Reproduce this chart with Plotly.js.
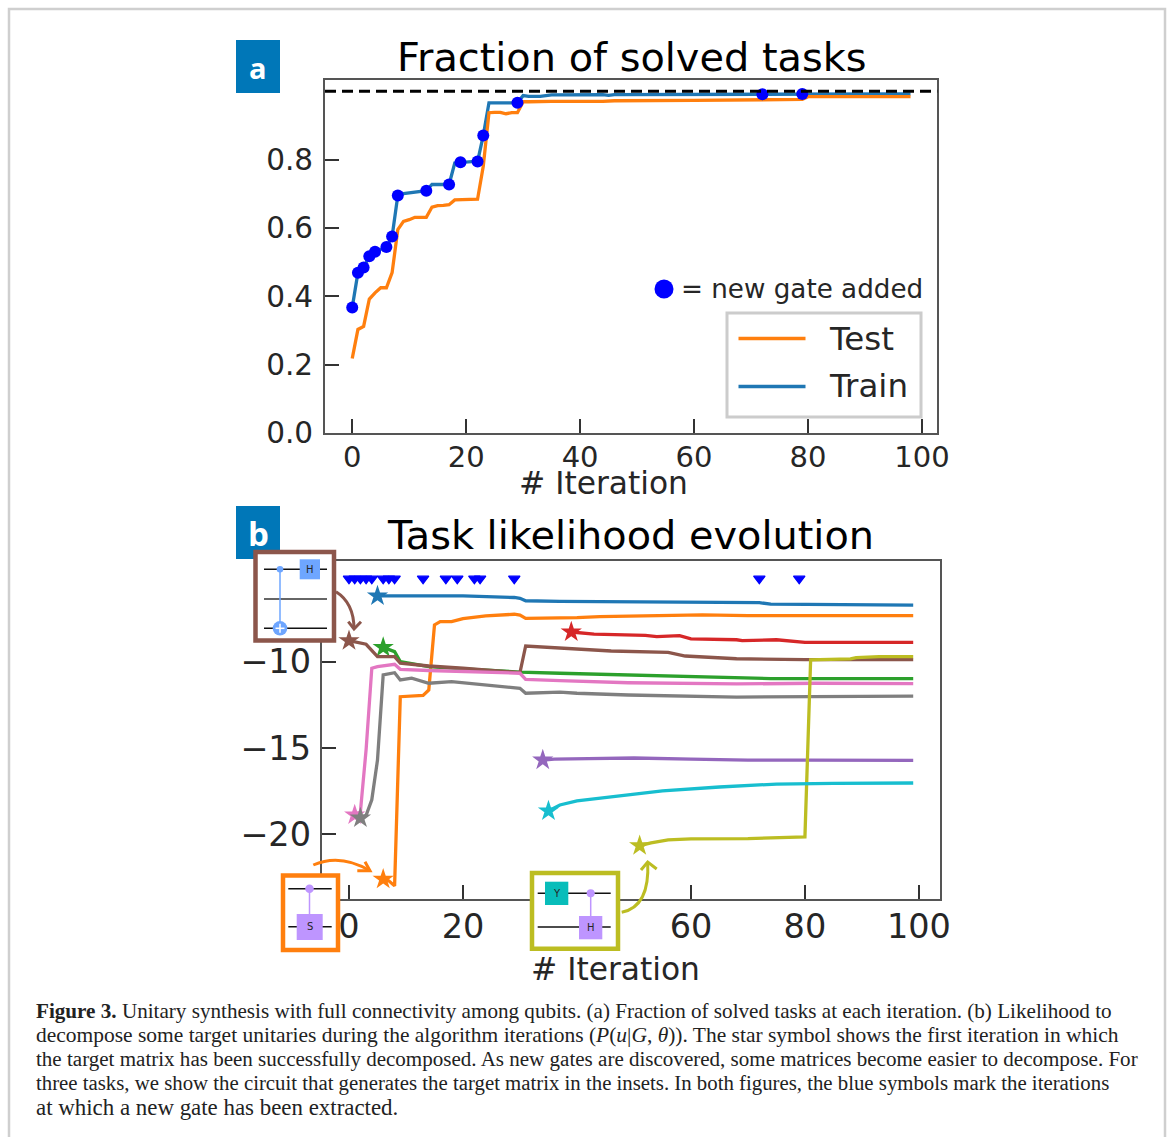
<!DOCTYPE html>
<html><head><meta charset="utf-8">
<script src="https://cdn.plot.ly/plotly-3.0.1.min.js"></script>
<style>html,body{margin:0;padding:0;background:#fff}#c{width:1168px;height:1137px}</style>
</head><body><div id="c"></div>
<script>
// ---- panel a data
const iterA = [0,1,2,3,4,5,6,7,8,9,10,11,12,13,14,15,16,17,18,19,20,21,22,23,24,25,26,27,28,29,30,31,33,35,44,45,46,60,68,72,79,80,98];
const trainA = [.367,.469,.484,.517,.530,.536,.544,.575,.695,.700,.702,.705,.708,.709,.727,.727,.727,.727,.790,.792,.792,.794,.794,.870,.966,.966,.965,.965,.966,.966,.987,.985,.985,.989,.990,.988,.990,.991,.991,.991,.992,.992,.992];
const testA  = [.218,.303,.312,.392,.410,.425,.425,.469,.595,.619,.624,.631,.631,.631,.661,.665,.666,.668,.682,.683,.682,.684,.684,.780,.937,.938,.938,.934,.937,.937,.969,.969,.970,.970,.970,.972,.972,.973,.974,.975,.976,.984,.984];
const gateIter = [0,1,2,3,4,6,7,8,13,17,19,22,23,29,72,79];
const gateFrac = [.367,.469,.484,.517,.530,.544,.575,.695,.709,.727,.792,.794,.870,.966,.991,.992];
const solvedLevel = 1.0;
// ---- panel b data
const gateMarkY = -5.19;
const xTask1=[5,7,20,29,30,31,37,72,74,99], yTask1=[-6.19,-6.19,-6.19,-6.28,-6.33,-6.47,-6.50,-6.58,-6.67,-6.72];
const xTask2=[6,7,8,9,13,14,15,16,18,20,24,29,30,31,40,44,62,70,99], yTask2=[-22.6,-22.7,-22.99,-12.03,-11.95,-11.64,-7.87,-7.68,-7.68,-7.5,-7.35,-7.25,-7.3,-7.49,-7.45,-7.39,-7.29,-7.33,-7.33];
const xTask3=[6,8,9,14,20,30,37,49,60,74,99], yTask3=[-9.17,-9.42,-10.0,-10.29,-10.42,-10.6,-10.67,-10.77,-10.89,-10.98,-10.98];
const xTask4=[39,43,52,54,58,60,68,69,75,80,99], yTask4=[-8.28,-8.40,-8.47,-8.55,-8.49,-8.68,-8.73,-8.78,-8.73,-8.88,-8.88];
const xTask5=[34,36,42,50,60,70,80,99], yTask5=[-15.7,-15.65,-15.62,-15.58,-15.65,-15.7,-15.7,-15.72];
const xTask6=[0,1,3,5,8,9,14,20,30,31,37,46,56,59,68,80,99], yTask6=[-8.78,-8.85,-8.99,-9.71,-9.71,-10.09,-10.25,-10.38,-10.63,-9.09,-9.22,-9.38,-9.46,-9.67,-9.83,-9.88,-9.88];
const xTask7=[1,2,3,4,5,8,9,14,30,31,37,49,68,82,99], yTask7=[-18.88,-18.7,-15.1,-10.38,-10.29,-10.15,-10.44,-10.51,-10.67,-11.02,-11.1,-11.22,-11.29,-11.25,-11.27];
const xTask8=[2,3,4,5,6,7,8,9,11,14,18,30,31,37,40,49,68,99], yTask8=[-19.06,-18.9,-18.0,-15.7,-10.77,-10.71,-10.64,-11.06,-10.95,-11.25,-11.16,-11.54,-11.83,-11.76,-11.83,-11.93,-12.05,-12.0];
const xTask9=[51,53,56,60,70,80,81,88,89,93,99], yTask9=[-20.66,-20.5,-20.33,-20.27,-20.25,-20.15,-9.9,-9.84,-9.76,-9.71,-9.71];
const xTask10=[35,37,40,47,55,65,75,85,99], yTask10=[-18.65,-18.3,-18.07,-17.78,-17.49,-17.26,-17.09,-17.05,-17.03];
const taskColors=['#1f77b4','#ff7f0e','#2ca02c','#d62728','#9467bd','#8c564b','#e377c2','#7f7f7f','#bcbd22','#17becf'];
const captionLines=[
 '<b>Figure 3.</b> Unitary synthesis with full connectivity among qubits. (a) Fraction of solved tasks at each iteration. (b) Likelihood to',
 'decompose some target unitaries during the algorithm iterations (<i>P</i>(<i>u</i>|<i>G</i>, <i>θ</i>)). The star symbol shows the first iteration in which',
 'the target matrix has been successfully decomposed. As new gates are discovered, some matrices become easier to decompose. For',
 'three tasks, we show the circuit that generates the target matrix in the insets. In both figures, the blue symbols mark the iterations',
 'at which a new gate has been extracted.'];
const captionSizes=[21.14,21.48,21.04,20.8,22.9];

const W=1168,H=1137;
const px=x=>x/W, py=y=>1-y/H;
const INK='#262626', SPINE='#555555', GATE='#0000ff';
const tasks=[[xTask1,yTask1],[xTask2,yTask2],[xTask3,yTask3],[xTask4,yTask4],[xTask5,yTask5],[xTask6,yTask6],[xTask7,yTask7],[xTask8,yTask8],[xTask9,yTask9],[xTask10,yTask10]];

const traces=[
 {x:iterA,y:trainA,name:'Train',mode:'lines',showlegend:false,line:{color:'#1f77b4',width:3.3},xaxis:'x',yaxis:'y'},
 {x:iterA,y:testA,name:'Test',mode:'lines',showlegend:false,line:{color:'#ff7f0e',width:3.3},xaxis:'x',yaxis:'y'},
 {x:gateIter,y:gateFrac,mode:'markers',showlegend:false,marker:{color:GATE,size:12},xaxis:'x',yaxis:'y'},
 {x:gateIter,y:gateIter.map(()=>gateMarkY),mode:'markers',showlegend:false,marker:{color:GATE,size:10,symbol:'triangle-down',line:{color:GATE,width:1.2}},xaxis:'x2',yaxis:'y2'}
];
tasks.forEach((t,i)=>{
 traces.push({x:t[0],y:t[1],mode:'lines',showlegend:false,line:{color:taskColors[i],width:3.3},xaxis:'x2',yaxis:'y2'});
 traces.push({x:[t[0][0]],y:[t[1][0]],mode:'markers',showlegend:false,marker:{color:taskColors[i],size:16,symbol:'star'},xaxis:'x2',yaxis:'y2'});
});

const rect=(x0,y0,x1,y1,fill,lc,lw)=>({type:'rect',xref:'paper',yref:'paper',layer:'above',x0:px(x0),x1:px(x1),y0:py(y0),y1:py(y1),fillcolor:fill||'rgba(0,0,0,0)',line:{color:lc||'rgba(0,0,0,0)',width:lw||0}});
const seg=(x0,y0,x1,y1,c,w)=>({type:'line',xref:'paper',yref:'paper',layer:'above',x0:px(x0),x1:px(x1),y0:py(y0),y1:py(y1),line:{color:c,width:w}});
const dot=(x,y,r,fill)=>({type:'circle',xref:'paper',yref:'paper',layer:'above',x0:px(x-r),x1:px(x+r),y0:py(y-r),y1:py(y+r),fillcolor:fill,line:{width:0,color:fill}});
const curve=(a,b,c,h1,h2,col)=>[
 {type:'path',xref:'paper',yref:'paper',layer:'above',path:`M${px(a[0])},${py(a[1])} Q${px(b[0])},${py(b[1])} ${px(c[0])},${py(c[1])}`,line:{color:col,width:3},fillcolor:'rgba(0,0,0,0)'},
 {type:'path',xref:'paper',yref:'paper',layer:'above',path:`M${px(h1[0])},${py(h1[1])} L${px(c[0])},${py(c[1])} L${px(h2[0])},${py(h2[1])}`,line:{color:col,width:3},fillcolor:'rgba(0,0,0,0)'}];
const QB='#6ea6ff', QP='#be95ff', QT='#08bdba';
const shapes=[
 {type:'line',xref:'x domain',yref:'y',layer:'above',x0:0,x1:1,y0:solvedLevel,y1:solvedLevel,line:{color:'#000',width:3,dash:'11px,6px'}},
 rect(9,9,1165,1300,null,'#cfcfcf',2.5),
 rect(236,40,280,93,'#0077b8'), rect(236,506,280,559,'#0077b8'),
 dot(664,289,9.5,GATE),
 // legend frame and keys
 rect(727,313,921,417,'#fff','#cccccc',3),
 seg(738.5,338.5,805.5,338.5,'#ff7f0e',3.3), seg(738.5,386.5,805.5,386.5,'#1f77b4',3.3),
 // brown inset
 rect(255.5,552,334,640.5,'#fff','#8c564b',4.5),
 seg(264,569.3,327,569.3,'#111',1.5),seg(264,599,327,599,'#333',1.5),seg(264,628.3,327,628.3,'#111',1.5),
 seg(280,569.3,280,628.3,QB,1.5),dot(280,569.3,3.3,QB),dot(280,628.3,7.3,QB),
 seg(275.5,628.3,284.5,628.3,'#fff',1.5),seg(280,623.8,280,632.8,'#fff',1.5),
 rect(299.7,559.3,320,579.3,QB),
 // orange inset
 rect(283,875.5,338,950,'#fff','#ff7f0e',4.5),
 seg(288.3,888.7,331.7,888.7,'#111',1.5),seg(288.3,926.7,331.7,926.7,'#111',1.5),
 seg(309.5,888.7,309.5,914,QP,1.5),dot(309.5,888.7,4.3,QP),rect(296.7,914,322.7,940,QP),
 // olive inset
 rect(532,873,618,948.7,'#fff','#bcbd22',4.5),
 seg(537.7,893.3,610.7,893.3,'#111',1.5),seg(537.7,927,610.7,927,'#111',1.5),
 rect(545,881.7,568.3,905,QT),seg(590.7,893.3,590.7,916,QP,1.5),dot(590.7,893.3,4,QP),rect(579,916,602.3,939.3,QP),
 ...curve([336,591.7],[354,603],[354,629],[348.3,621.7],[361,621.7],'#8c564b'),
 ...curve([313.3,865],[340,853],[370,870.7],[365,861.7],[357.3,870.7],'#ff7f0e'),
 ...curve([621.7,912.3],[650,906.7],[647.7,862],[641,870],[656.7,869],'#bcbd22')
];
const text=(t,x,y,size,o={})=>Object.assign({xref:'paper',yref:'paper',x:px(x),y:py(y),text:t,showarrow:false,xanchor:'center',yanchor:'middle',font:{family:'DejaVu Sans',size:size,color:INK}},o);
const annotations=[
 text('Fraction of solved tasks',631,57,39.85,{font:{family:'DejaVu Sans',size:39.85,color:'#000'}}),
 text('Task likelihood evolution',630,535,39.85,{font:{family:'DejaVu Sans',size:39.85,color:'#000'}}),
 text('# Iteration',603.5,483,31.3),
 text('# Iteration',615.5,969,31.3),
 text('= new gate added',802,289,26.2),
 text('Test',827,338.5,32.5,{xanchor:'left'}),
 text('Train',827,386.5,32.5,{xanchor:'left'}),
 text('<b>a</b>',258,67,29,{font:{family:'Open Sans',size:29,color:'#fff'}}),
 text('<b>b</b>',258,533,33,{font:{family:'Open Sans',size:33,color:'#fff'}}),
 text('H',309.8,569.3,10),text('S',309.7,927,10),text('Y',556.7,893.3,10),text('H',590.7,927.6,10),
];
captionLines.forEach((t,i)=>annotations.push({xref:'paper',yref:'paper',x:px(34),y:py(1011+24*i),xanchor:'left',yanchor:'middle',align:'left',showarrow:false,text:t,font:{family:'Liberation Serif',size:captionSizes[i],color:'#222'}}));

const axisBase={showgrid:false,zeroline:false,showline:true,mirror:true,linecolor:SPINE,linewidth:2,ticks:'inside',ticklen:14,tickwidth:2,tickcolor:'#333',automargin:false};
const layout={
 width:W,height:H,margin:{l:0,r:0,t:0,b:0},paper_bgcolor:'#fff',plot_bgcolor:'#fff',
 showlegend:false,
 xaxis:Object.assign({},axisBase,{domain:[px(325),px(937.3)],range:[-4.78,102.7],tickvals:[0,20,40,60,80,100],anchor:'y',ticklabelstandoff:-3,tickfont:{family:'DejaVu Sans',size:29,color:INK}}),
 yaxis:Object.assign({},axisBase,{domain:[py(433),py(80)],range:[0,1.0327],tickvals:[0,.2,.4,.6,.8],ticktext:['0.0','0.2','0.4','0.6','0.8'],anchor:'x',ticklabelstandoff:4,tickfont:{family:'DejaVu Sans',size:29.5,color:INK}}),
 xaxis2:Object.assign({},axisBase,{domain:[px(321.7),px(940)],range:[-4.79,103.7],tickvals:[0,20,60,80,100],anchor:'y2',ticklabelstandoff:-3,tickfont:{family:'DejaVu Sans',size:33.5,color:INK}}),
 yaxis2:Object.assign({},axisBase,{domain:[py(899),py(561)],range:[-23.75,-4.166],tickvals:[-10,-15,-20],anchor:'x2',ticklabelstandoff:2,tickfont:{family:'DejaVu Sans',size:33.5,color:INK}}),
 shapes,annotations
};
Plotly.newPlot('c',traces,layout,{displayModeBar:false,responsive:false});
</script></body></html>
